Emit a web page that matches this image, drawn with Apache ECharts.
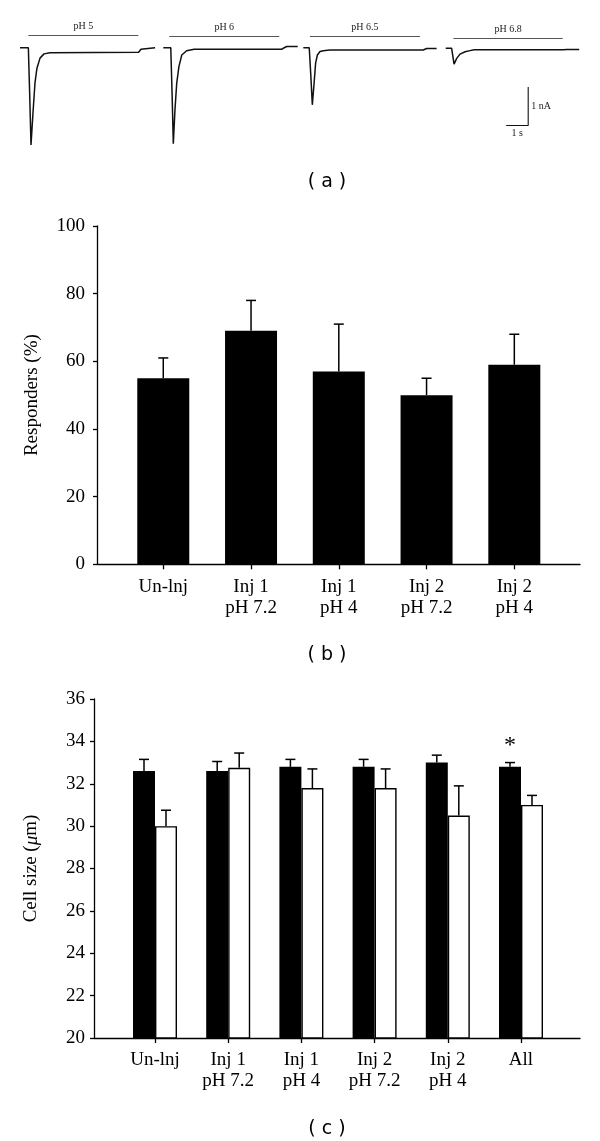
<!DOCTYPE html>
<html>
<head>
<meta charset="utf-8">
<script src="https://cdn.jsdelivr.net/npm/echarts@6/dist/echarts.min.js"></script>
<style>
html,body{margin:0;padding:0;background:#fff;}
#chart{width:600px;height:1141px;}
</style>
</head>
<body>
<div id="chart"></div>
<script>
// ---------- Panel (a): current traces (time in s, current in nA) ----------
const traceLabels = ['pH 5', 'pH 6', 'pH 6.5', 'pH 6.8'];
const trace1 = [[0,0],[0.38,0],[0.44,-1.2],[0.50,-2.52],[0.59,-1.69],[0.68,-0.92],[0.77,-0.53],[0.91,-0.27],[1.09,-0.16],[1.36,-0.13],[5.39,-0.12],[5.50,-0.04],[5.59,0],[6.14,0]];
const trace2 = [[0,0],[0.34,0],[0.40,-1.2],[0.455,-2.49],[0.53,-1.61],[0.61,-0.92],[0.71,-0.49],[0.84,-0.19],[1.06,-0.08],[1.4,-0.04],[5.38,-0.04],[5.50,0.0],[5.61,0.03],[6.11,0.03]];
const trace3 = [[0,0],[0.27,0],[0.34,-0.7],[0.41,-1.48],[0.49,-0.92],[0.56,-0.40],[0.64,-0.19],[0.76,-0.10],[0.91,-0.08],[1.2,-0.06],[5.45,-0.06],[5.61,-0.02],[6.06,-0.02]];
const trace4 = [[0,0],[0.27,0],[0.32,-0.04],[0.38,-0.41],[0.50,-0.26],[0.65,-0.15],[0.88,-0.09],[1.10,-0.06],[1.3,-0.04],[5.35,-0.04],[5.50,-0.03],[6.07,-0.03]];
const traces = [trace1, trace2, trace3, trace4];
const applicationBars = [[0.38, 5.38], [0.27, 5.27], [0.30, 5.30], [0.35, 5.32]]; // s
const scaleBarTime = 1;     // s
const scaleBarCurrent = 1;  // nA

// ---------- Panel (b): responders ----------
const bCategories = ['Un-lnj', 'Inj 1\npH 7.2', 'Inj 1\npH 4', 'Inj 2\npH 7.2', 'Inj 2\npH 4'];
const bValues = [55, 69, 57, 50, 59];
const bUpper = [61, 78, 71, 55, 68];
const bTicks = [0, 20, 40, 60, 80, 100];

// ---------- Panel (c): cell size ----------
const cCategories = ['Un-lnj', 'Inj 1\npH 7.2', 'Inj 1\npH 4', 'Inj 2\npH 7.2', 'Inj 2\npH 4', 'All'];
const cBlack = [32.6, 32.6, 32.8, 32.8, 33.0, 32.8];
const cBlackUpper = [33.15, 33.05, 33.15, 33.15, 33.35, 33.0];
const cWhite = [30.0, 32.75, 31.8, 31.8, 30.5, 31.0];
const cWhiteUpper = [30.75, 33.45, 32.7, 32.7, 31.9, 31.45];
const cSignificance = ['', '', '', '', '', '*'];
const cTicks = [20, 22, 24, 26, 28, 30, 32, 34, 36];

// ---------- layout ----------
const SERIF = 'Liberation Serif';
const pxPerSec = 22, pxPerNA = 38.6;
const tMax = 6.2, iMin = -2.6, iMax = 0.5;
const traceLeft = [20, 163.3, 303.3, 445.7];
const traceBase = [47.7, 47.7, 47.7, 48.3];
const appBarLevel = [0.31, 0.30, 0.30, 0.25];

const grids = [];
const xAxes = [];
const yAxes = [];
const series = [];

for (let k = 0; k < 4; k++) {
  grids.push({left: traceLeft[k], top: traceBase[k] - iMax * pxPerNA, width: tMax * pxPerSec, height: (iMax - iMin) * pxPerNA});
  xAxes.push({type: 'value', gridIndex: k, min: 0, max: tMax, show: false});
  yAxes.push({type: 'value', gridIndex: k, min: iMin, max: iMax, show: false});
  series.push({
    type: 'line', xAxisIndex: k, yAxisIndex: k, data: traces[k], showSymbol: false, symbol: 'none',
    lineStyle: {color: '#111', width: 1.5}, clip: false,
    markLine: {
      silent: true, symbol: 'none', animation: false,
      lineStyle: {color: '#555', width: 1.1, type: 'solid'},
      label: {show: true, position: 'middle', formatter: traceLabels[k], fontFamily: SERIF, fontSize: 10, color: '#222', distance: 4},
      data: [[{coord: [applicationBars[k][0], appBarLevel[k]]}, {coord: [applicationBars[k][1], appBarLevel[k]]}]]
    }
  });
}
// scale bar, in trace-4 coordinates
const sbX = 2.75, sbY = -2;
series.push({
  type: 'line', xAxisIndex: 3, yAxisIndex: 3, showSymbol: true, symbol: 'circle', symbolSize: 0,
  lineStyle: {color: '#111', width: 1.1}, clip: false,
  label: {show: false},
  data: [
    [sbX, sbY],
    {value: [sbX + scaleBarTime / 2, sbY], label: {show: true, position: 'bottom', distance: 3, formatter: scaleBarTime + ' s', fontFamily: SERIF, fontSize: 10, color: '#222'}},
    [sbX + scaleBarTime, sbY],
    {value: [sbX + scaleBarTime, sbY + scaleBarCurrent / 2], label: {show: true, position: 'right', distance: 3, formatter: scaleBarCurrent + ' nA', fontFamily: SERIF, fontSize: 10, color: '#222'}},
    [sbX + scaleBarTime, sbY + scaleBarCurrent]
  ]
});

// ---------- panel (b) ----------
const axisLine = {show: true, onZero: false, lineStyle: {color: '#000', width: 1.3}};
const labelStyle = {fontFamily: SERIF, fontSize: 19, color: '#000'};

// axis frame grid
grids.push({left: 97, top: 226, width: 483, height: 338.3}); // 4
xAxes.push({type: 'value', gridIndex: 4, min: 0, max: 1, axisLine: axisLine, axisTick: {show: false}, axisLabel: {show: false}, splitLine: {show: false}});
yAxes.push({type: 'value', gridIndex: 4, min: bTicks[0], max: bTicks[bTicks.length - 1], interval: 20,
  axisLine: axisLine, axisTick: {show: true, inside: false, length: 4, lineStyle: {color: '#000', width: 1.3}},
  axisLabel: Object.assign({margin: 12}, labelStyle), splitLine: {show: false},
  name: 'Responders (%)', nameLocation: 'middle', nameRotate: 90, nameGap: 55,
  nameTextStyle: {fontFamily: SERIF, fontSize: 19, color: '#000'}});
// bar grid
grids.push({left: 119.4, top: 226, width: 438.8, height: 338.3}); // 5
xAxes.push({type: 'category', gridIndex: 5, data: bCategories, axisLine: {show: false},
  axisTick: {show: true, alignWithLabel: true, length: 5, lineStyle: {color: '#000', width: 1.3}},
  axisLabel: Object.assign({margin: 12, lineHeight: 21, interval: 0}, labelStyle)});
yAxes.push({type: 'value', gridIndex: 5, min: 0, max: 100, show: false});

series.push({type: 'bar', xAxisIndex: 5, yAxisIndex: 5, data: bValues, barWidth: 52, itemStyle: {color: '#000'}});

function errorRenderer(offset, capHalf, sigArr) {
  return function (params, api) {
    const idx = api.value(0);
    const base = api.coord([idx, api.value(1)]);
    const top = api.coord([idx, api.value(2)]);
    const x = base[0] + offset;
    const children = [
      {type: 'line', shape: {x1: x, y1: base[1], x2: x, y2: top[1]}, style: {stroke: '#000', lineWidth: 1.5}},
      {type: 'line', shape: {x1: x - capHalf, y1: top[1], x2: x + capHalf, y2: top[1]}, style: {stroke: '#000', lineWidth: 1.5}}
    ];
    if (sigArr && sigArr[params.dataIndex]) {
      children.push({type: 'text', x: x, y: top[1] - 5, style: {text: sigArr[params.dataIndex], textAlign: 'center', textVerticalAlign: 'bottom', font: '24px "Liberation Serif"', fill: '#000'}});
    }
    return {type: 'group', children: children};
  };
}
series.push({type: 'custom', xAxisIndex: 5, yAxisIndex: 5, z: 5,
  data: bValues.map((v, i) => [i, v, bUpper[i]]),
  renderItem: errorRenderer(0, 5, null)});

// ---------- panel (c) ----------
grids.push({left: 94, top: 699, width: 486, height: 339}); // 6
xAxes.push({type: 'value', gridIndex: 6, min: 0, max: 1, axisLine: axisLine, axisTick: {show: false}, axisLabel: {show: false}, splitLine: {show: false}});
yAxes.push({type: 'value', gridIndex: 6, min: cTicks[0], max: cTicks[cTicks.length - 1], interval: 2,
  axisLine: axisLine, axisTick: {show: true, inside: false, length: 4, lineStyle: {color: '#000', width: 1.3}},
  axisLabel: Object.assign({margin: 9}, labelStyle), splitLine: {show: false},
  name: 'Cell size ({i|μ}m)', nameLocation: 'middle', nameRotate: 90, nameGap: 53,
  nameTextStyle: {fontFamily: SERIF, fontSize: 19, color: '#000', rich: {i: {fontFamily: SERIF, fontSize: 19, fontStyle: 'italic', color: '#000'}}}});
grids.push({left: 118.4, top: 699, width: 439.2, height: 339}); // 7
xAxes.push({type: 'category', gridIndex: 7, data: cCategories, axisLine: {show: false},
  axisTick: {show: true, alignWithLabel: true, length: 5, lineStyle: {color: '#000', width: 1.3}},
  axisLabel: Object.assign({margin: 12, lineHeight: 21, interval: 0}, labelStyle)});
yAxes.push({type: 'value', gridIndex: 7, min: 20, max: 36, show: false});

series.push({type: 'bar', xAxisIndex: 7, yAxisIndex: 7, data: cBlack, barWidth: 22, barGap: '0%', itemStyle: {color: '#000'}});
series.push({type: 'bar', xAxisIndex: 7, yAxisIndex: 7, data: cWhite, barWidth: 22, barGap: '0%', itemStyle: {color: '#fff', borderColor: '#000', borderWidth: 1.4}});
series.push({type: 'custom', xAxisIndex: 7, yAxisIndex: 7, z: 5,
  data: cBlack.map((v, i) => [i, v, cBlackUpper[i]]),
  renderItem: errorRenderer(-11, 5, cSignificance)});
series.push({type: 'custom', xAxisIndex: 7, yAxisIndex: 7, z: 5,
  data: cWhite.map((v, i) => [i, v, cWhiteUpper[i]]),
  renderItem: errorRenderer(11, 5, null)});

const panelTitle = (txt, top) => ({text: txt, left: 322, top: top, textAlign: 'center',
  textStyle: {fontFamily: 'DejaVu Sans', fontSize: 19, fontWeight: 'normal', color: '#000'}});

const chart = echarts.init(document.getElementById('chart'), null, {renderer: 'canvas'});
chart.setOption({
  animation: false,
  backgroundColor: '#fff',
  title: [panelTitle('( a )', 168), panelTitle('( b )', 641), panelTitle('( c )', 1115)],
  grid: grids,
  xAxis: xAxes,
  yAxis: yAxes,
  series: series
});
</script>
</body>
</html>
